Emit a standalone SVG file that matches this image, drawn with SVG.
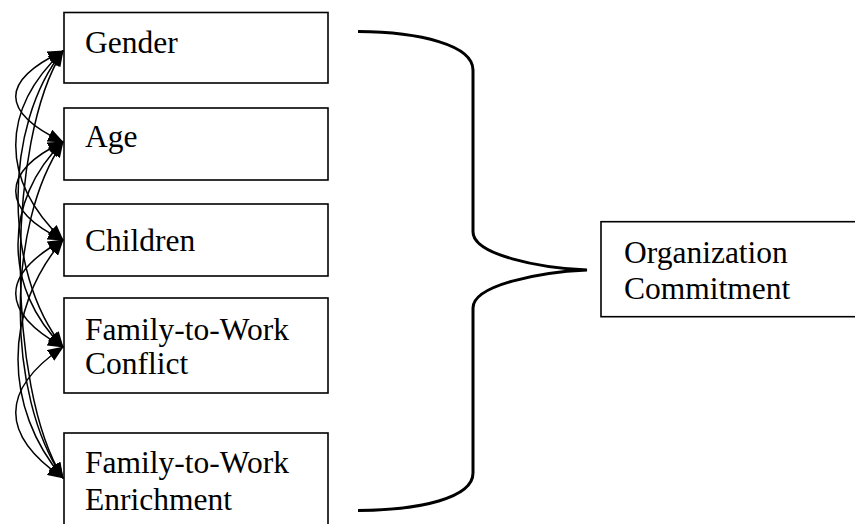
<svg xmlns="http://www.w3.org/2000/svg" width="855" height="524" viewBox="0 0 855 524">
<style>
.box{fill:#fff;stroke:#000;stroke-width:1.6}
.t{font-family:"Liberation Serif","Times New Roman",serif;font-size:31.5px;fill:#000}
.c{fill:none;stroke:#000;stroke-width:1.5}
.brace{fill:none;stroke:#000;stroke-width:3}
</style>
<defs>
<marker id="ah" markerUnits="userSpaceOnUse" markerWidth="16" markerHeight="13" refX="15" refY="6.5" orient="auto-start-reverse" viewBox="0 0 16 13">
<path d="M0,0 L16,6.5 L0,13 z" fill="#000"/>
</marker>
</defs>
<rect width="855" height="524" fill="#fff"/>
<g id="connectors">
<path class="c" marker-start="url(#ah)" marker-end="url(#ah)" d="M63,51 C0,81 0,112 63,142"/>
<path class="c" marker-start="url(#ah)" marker-end="url(#ah)" d="M63,51 C0,110 0,180 63,240"/>
<path class="c" marker-start="url(#ah)" marker-end="url(#ah)" d="M63,51 C3,125 3,272 63,347"/>
<path class="c" marker-start="url(#ah)" marker-end="url(#ah)" d="M63,51 C6,140 6,388 63,478"/>
<path class="c" marker-start="url(#ah)" marker-end="url(#ah)" d="M63,142 C0,172 0,210 63,240"/>
<path class="c" marker-start="url(#ah)" marker-end="url(#ah)" d="M63,142 C3,200 3,289 63,347"/>
<path class="c" marker-start="url(#ah)" marker-end="url(#ah)" d="M63,142 C6,225 6,395 63,478"/>
<path class="c" marker-start="url(#ah)" marker-end="url(#ah)" d="M63,240 C0,275 0,312 63,347"/>
<path class="c" marker-start="url(#ah)" marker-end="url(#ah)" d="M63,240 C3,310 3,408 63,478"/>
<path class="c" marker-start="url(#ah)" marker-end="url(#ah)" d="M63,347 C0,390 0,435 63,478"/>
<path class="brace" d="M358,31.5 C420,32 473,45 473,70 V231.7 C473,255 540,268 587,270 C540,272 473,285 473,308 V473 C473,498 420,510 358,510.5"/>
</g>
<g id="gender"><rect class="box" x="64" y="12.5" width="264" height="70.5"/><text class="t" x="85" y="53">Gender</text></g>
<g id="age"><rect class="box" x="64" y="108" width="264" height="72"/><text class="t" x="85" y="147">Age</text></g>
<g id="children"><rect class="box" x="64" y="204" width="264" height="72"/><text class="t" x="85" y="251">Children</text></g>
<g id="conflict"><rect class="box" x="64" y="298" width="264" height="95"/><text class="t" x="85" y="340">Family-to-Work</text><text class="t" x="85" y="373.5">Conflict</text></g>
<g id="enrichment"><rect class="box" x="64" y="433" width="264" height="110"/><text class="t" x="85" y="473">Family-to-Work</text><text class="t" x="85" y="510">Enrichment</text></g>
<g id="commitment"><rect class="box" x="601" y="221.7" width="300" height="95"/><text class="t" x="624" y="262.5">Organization</text><text class="t" x="624" y="299">Commitment</text></g>
</svg>
